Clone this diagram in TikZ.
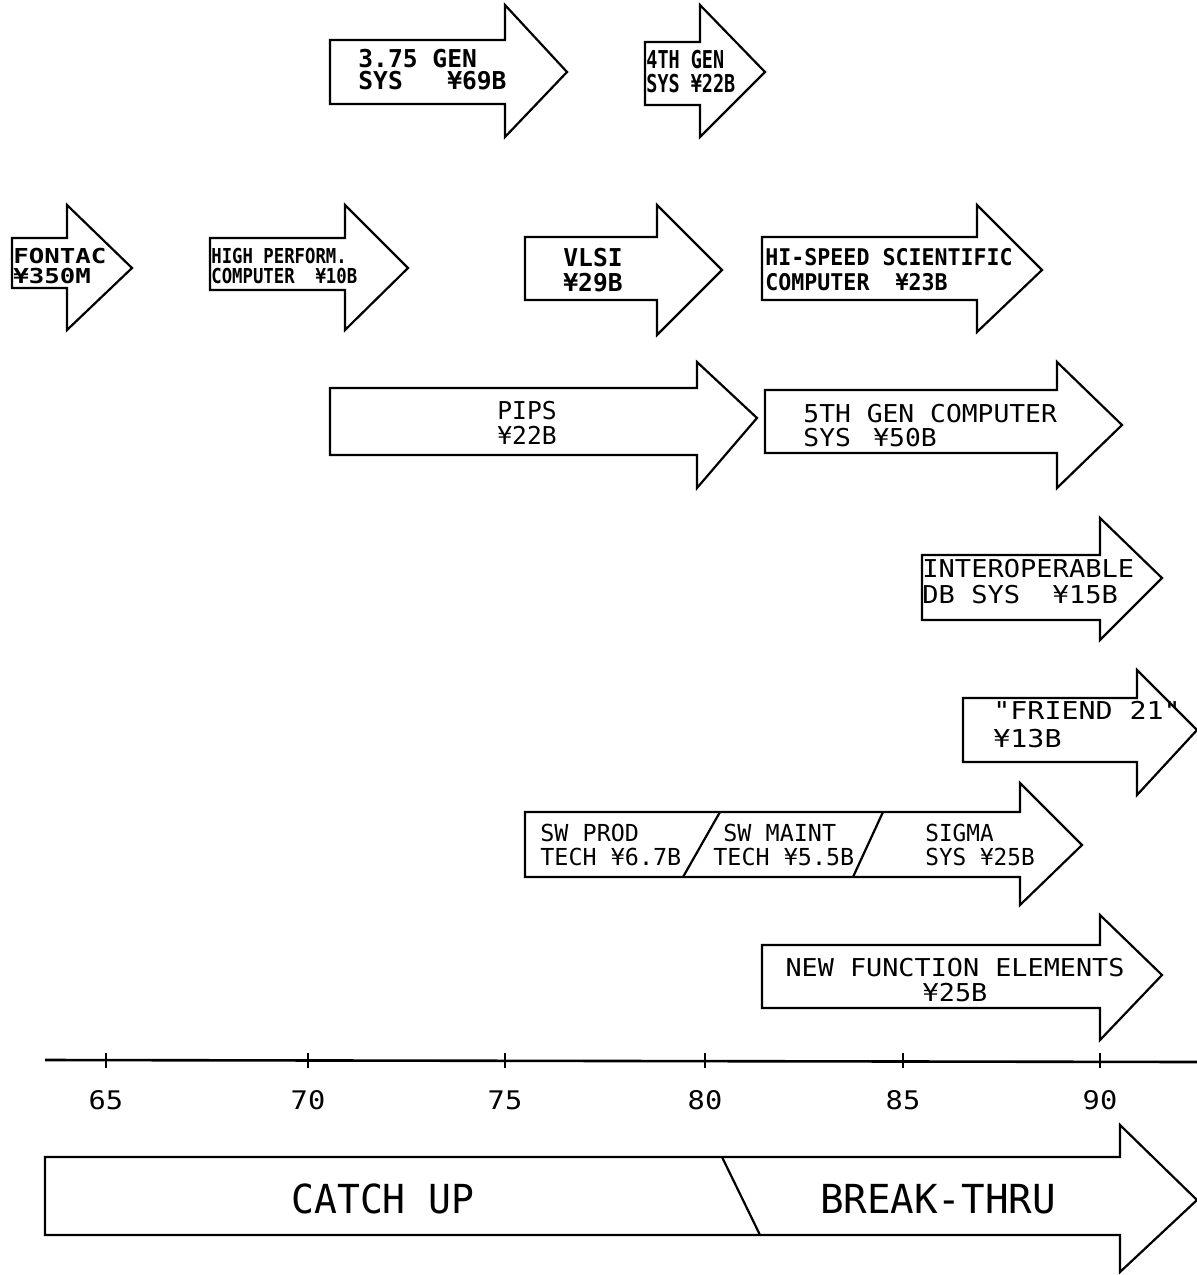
\documentclass[tikz,border=0pt]{standalone}
\usepackage{fontspec}
\usepackage{graphicx}
\newfontfamily\plotf{DejaVu Sans Mono}
\newcommand\sx[2]{\scalebox{#1}[1]{#2}}
\newcommand\fsz[2]{\fontsize{#1}{#2}\selectfont}
\newcommand\arrw[8]{\draw[arrline] (#1,#2) -- (#4,#2) -- (#4,#5) -- (#7,#8) -- (#4,#6) -- (#4,#3) -- (#1,#3) -- cycle;}
\tikzset{
  arrline/.style={draw=black,line width=1.1pt,line join=miter,fill=white},
  lbl/.style={inner sep=0pt,align=left,anchor=west},
  clbl/.style={inner sep=0pt,align=center,anchor=center},
}
\begin{document}
\begin{tikzpicture}[x=0.5pt,y=-0.5pt]
\useasboundingbox (0,0) rectangle (1197,1275);
% arrows
\arrw{330}{40}{104}{505}{5}{137}{567}{72}
\arrw{645}{42}{105}{700}{5}{137}{765}{72}
\arrw{12}{238}{288}{67}{205}{330}{132}{268}
\arrw{210}{238}{290}{345}{205}{330}{408}{268}
\arrw{525}{237}{300}{657}{205}{335}{722}{270}
\arrw{762}{237}{300}{977}{205}{332}{1042}{270}
\arrw{330}{388}{455}{697}{362}{488}{757}{418}
\arrw{765}{390}{453}{1057}{362}{488}{1122}{425}
\arrw{922}{555}{620}{1100}{518}{640}{1162}{578}
\arrw{963}{698}{762}{1137}{670}{795}{1197}{730}
\arrw{525}{812}{877}{1020}{783}{905}{1082}{845}
\arrw{762}{945}{1008}{1100}{915}{1040}{1162}{975}
\arrw{45}{1157}{1235}{1120}{1125}{1272}{1197}{1200}
% dividers
\draw[line width=1.1pt] (683,877) -- (720,812);
\draw[line width=1.1pt] (853,877) -- (883,812);
\draw[line width=1.1pt] (722,1157) -- (760,1235);
% labels
\node[lbl,font={\plotf\bfseries\fsz{12.3}{11}}] (n375) at (358,70) {\sx{1.0}{3.75 GEN}\\\sx{1.0}{SYS\ \ \ ¥69B}};
\node[lbl,font={\plotf\bfseries\fsz{12.3}{12}}] (n4th) at (646,72) {\sx{0.75}{4TH GEN}\\\sx{0.75}{SYS ¥22B}};
\node[lbl,font={\plotf\bfseries\fsz{10.3}{10}}] (fontac) at (13,266) {\sx{1.25}{FONTAC}\\\sx{1.25}{¥350M}};
\node[lbl,font={\plotf\bfseries\fsz{10.3}{10}}] (hpc) at (211,266) {\sx{0.84}{HIGH PERFORM.}\\\sx{0.84}{COMPUTER\ \ ¥10B}};
\node[lbl,font={\plotf\bfseries\fsz{12.3}{12.5}}] (vlsi) at (563,270) {\sx{1.0}{VLSI}\\\sx{1.0}{¥29B}};
\node[lbl,font={\plotf\bfseries\fsz{11.5}{12.5}}] (hisp) at (765,270) {\sx{0.94}{HI-SPEED SCIENTIFIC}\\\sx{0.94}{COMPUTER\ \ ¥23B}};
\node[clbl,font={\plotf\fsz{12.3}{12.5}}] (pips) at (527,423) {\sx{1.0}{PIPS}\\\sx{1.0}{¥22B}};
\node[lbl,font={\plotf\fsz{12.3}{12}}] (fifth) at (803,426) {\sx{1.07}{5TH GEN COMPUTER}\\\sx{1.07}{SYS\ \kern0.25em¥50B}};
\node[lbl,font={\plotf\fsz{12.3}{13}}] (interop) at (922,582) {\sx{1.1}{INTEROPERABLE}\\\sx{1.1}{DB SYS\ \ ¥15B}};
\node[lbl,font={\plotf\fsz{12.3}{14}}] (friend) at (993,725) {\sx{1.15}{"FRIEND 21"}\\\sx{1.15}{¥13B}};
\node[lbl,font={\plotf\fsz{11.7}{12}}] (swprod) at (540,845) {\sx{1.0}{SW PROD}\\\sx{1.0}{TECH ¥6.7B}};
\node[lbl,font={\plotf\fsz{11.7}{12}}] (swmaint) at (713,845) {\hspace{5pt}\sx{1.0}{SW MAINT}\\\sx{1.0}{TECH ¥5.5B}};
\node[lbl,font={\plotf\fsz{11.7}{12}}] (sigma) at (925,845) {\sx{0.97}{SIGMA}\\\sx{0.97}{SYS ¥25B}};
\node[clbl,font={\plotf\fsz{12.3}{12.5}}] (newf) at (955,980) {\sx{1.09}{NEW FUNCTION ELEMENTS}\\\sx{1.09}{¥25B}};
% axis
\coordinate (ax0) at (45,1060);
\coordinate (ax1) at (1197,1062);
\draw[line width=1.3pt] (ax0) -- (ax1);
\foreach \x/\l in {106/65,308/70,505/75,705/80,903/85,1100/90}{
  \draw[line width=0.8pt] (\x,1053) -- (\x,1068);
  \node[clbl,font={\plotf\fsz{12.8}{13}}] (t\l) at (\x,1100) {\sx{1.12}{\l}};
}
\node[clbl,font={\plotf\fsz{20}{20}}] (catch) at (383,1199) {\sx{0.95}{CATCH UP}};
\node[clbl,font={\plotf\fsz{20}{20}}] (brk) at (938,1199) {\sx{0.98}{BREAK-THRU}};
\end{tikzpicture}
\end{document}
